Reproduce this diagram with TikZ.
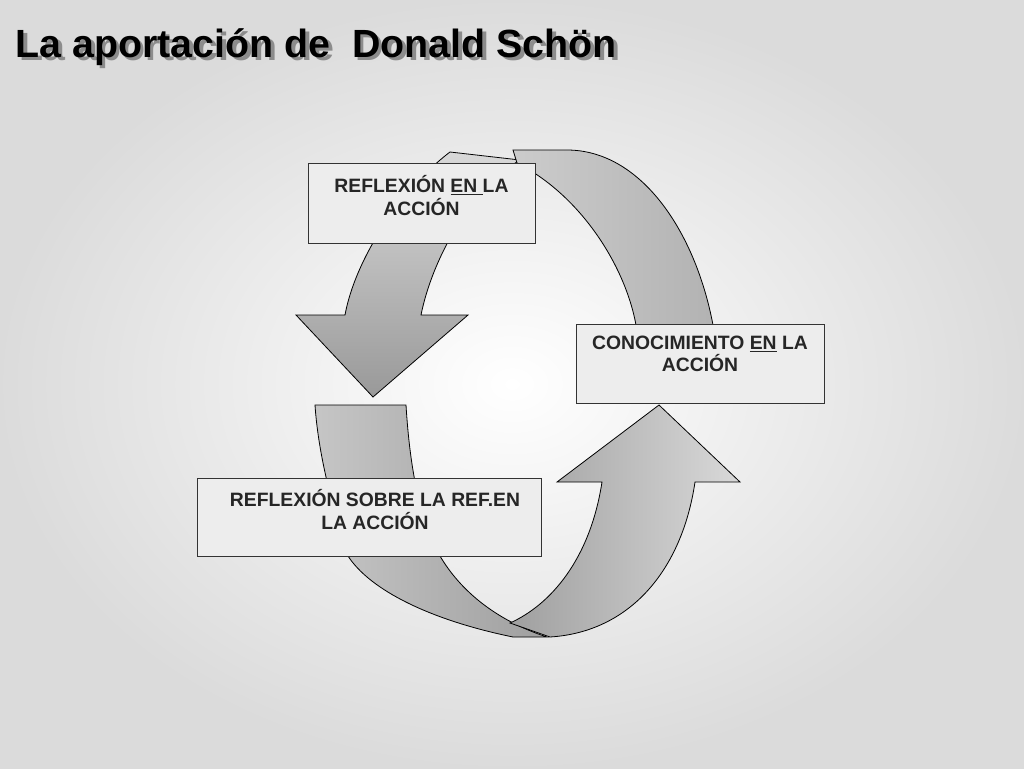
\documentclass[tikz,border=0pt]{standalone}
\usepackage{fontspec}
\setmainfont{Liberation Sans}
\usetikzlibrary{shadings}
\begin{document}
\begin{tikzpicture}[x=0.75pt,y=-0.75pt,
  arr/.style={draw=black,line width=0.6pt,left color=gray!85,right color=gray!25},
  arrd/.style={draw=black,line width=0.6pt,top color=gray!30,bottom color=gray!80},
  lbl/.style={draw=black!80,line width=0.6pt,fill=gray!14,inner sep=0pt},
  txt/.style={font=\bfseries\fontsize{14.5}{17}\selectfont,text=black!85,align=center,anchor=north}]
\useasboundingbox (0,0) rectangle (1024,768);
\shade[inner color=white,outer color=gray!28] (0,0) rectangle (1024,768);
\node[anchor=west,font=\bfseries\fontsize{29.5}{32}\selectfont,text=black!45] at (14.5,50) {La aportación de\ \ Donald Schön};
\node[anchor=west,font=\bfseries\fontsize{29.5}{32}\selectfont,text=black] (title) at (11,47) {La aportación de\ \ Donald Schön};
% left down arrow
\draw[arrd] (450,152) .. controls (400,190) and (355,260) .. (345,315) -- (296,315) -- (373,397) -- (468,315) -- (421,315) .. controls (432,260) and (470,190) .. (520,160) -- cycle;
% top right band
\draw[arr,left color=gray!40,right color=gray!60] (513,150) -- (567,150) .. controls (640,150) and (695,230) .. (713,325) -- (636,325) .. controls (625,265) and (580,195) .. (517,163) -- cycle;
% bottom-left band
\draw[arr,left color=gray!45,right color=gray!75] (315,405) -- (406,405) .. controls (410,470) and (420,520) .. (440,556) .. controls (460,590) and (495,620) .. (547,637) -- (513,637) .. controls (430,620) and (370,590) .. (348,556) .. controls (330,500) and (318,450) .. (315,405) -- cycle;
% up arrow
\draw[arr,left color=gray!75,right color=gray!30] (659,405) -- (740,482) -- (695,482) .. controls (682,570) and (630,632) .. (550,637) -- (510,623) .. controls (550,605) and (590,560) .. (602,482) -- (557,482) -- cycle;
\node[lbl,minimum width=227*0.75pt,minimum height=80*0.75pt,anchor=north west] (b1) at (308,163) {};
\node[txt] (t1) at (421.5,171) {REFLEXIÓN \underline{EN }LA\\ACCIÓN};
\node[lbl,minimum width=248*0.75pt,minimum height=79*0.75pt,anchor=north west] (b2) at (576,324) {};
\node[txt] (t2) at (700,331) {CONOCIMIENTO \underline{EN} LA\\ACCIÓN};
\node[lbl,minimum width=344*0.75pt,minimum height=78*0.75pt,anchor=north west] (b3) at (197,478) {};
\node[txt] (t3) at (375,485) {REFLEXIÓN SOBRE LA REF.EN\\LA ACCIÓN};
\end{tikzpicture}
\end{document}
